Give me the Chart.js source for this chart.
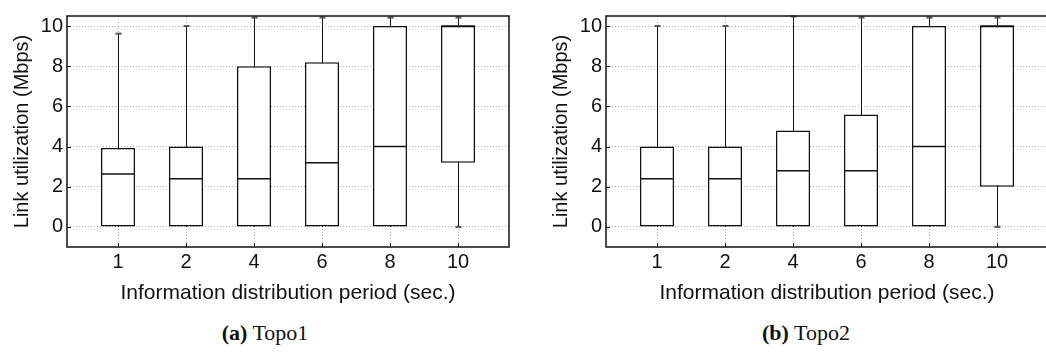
<!DOCTYPE html>
<html>
<head>
<meta charset="utf-8">
<title>Link utilization box plots</title>
<script src="https://cdn.jsdelivr.net/npm/chart.js@4"></script>
<style>
html,body{margin:0;padding:0;background:#fff;overflow:hidden}
#wrap{position:relative;width:1046px;height:354px;overflow:hidden}
.panel{position:absolute;top:0}
.panel canvas{display:block}
.cap{position:absolute;top:322px;width:240px;text-align:center;font-family:"Liberation Serif","Times New Roman",serif;font-size:22px;line-height:22px;color:#111}
</style>
</head>
<body>
<div id="wrap">
  <div class="panel" style="left:0"><canvas id="topo1" width="520" height="310"></canvas></div>
  <div class="panel" style="left:539px"><canvas id="topo2" width="520" height="310"></canvas></div>
  <div class="cap" style="left:145px"><b>(a)</b> Topo1</div>
  <div class="cap" style="left:686px"><b>(b)</b> Topo2</div>
</div>
<script>
// categories (information distribution period, sec.)
const periods = ['1', '2', '4', '6', '8', '10'];
const positions = [1, 2, 3, 4, 5, 6];
const yTicks = [0, 2, 4, 6, 8, 10];

// Topo1 box statistics (Mbps)
const topo1Min = [0, 0, 0, 0, 0, 0];
const topo1Q1 = [0, 0, 0, 0, 0, 3.2];
const topo1Median = [2.64, 2.4, 2.4, 3.2, 4, 10];
const topo1Q3 = [3.93, 4, 8.0, 8.2, 10, 10];
const topo1Max = [9.62, 10, 10.42, 10.42, 10.42, 10.42];

// Topo2 box statistics (Mbps)
const topo2Min = [0, 0, 0, 0, 0, 0];
const topo2Q1 = [0, 0, 0, 0, 0, 2];
const topo2Median = [2.4, 2.4, 2.8, 2.8, 4, 10];
const topo2Q3 = [4, 4, 4.8, 5.6, 10, 10];
const topo2Max = [10, 10, 10.48, 10.42, 10.42, 10.42];

const SANS = '"Liberation Sans", Arial, Helvetica, sans-serif';
const INK = '#111';

// whiskers behind the boxes, medians + frame on top
const boxPlugin = {
  id: 'boxParts',
  beforeDatasetsDraw(chart, args, opts) {
    const { ctx, scales: { x, y } } = chart;
    const s = opts.stats;
    ctx.save();
    positions.forEach((p, i) => {
      const px = Math.round(x.getPixelForValue(p)) + 0.5;
      ctx.strokeStyle = INK;
      ctx.lineWidth = 1;
      ctx.beginPath();
      ctx.moveTo(px, y.getPixelForValue(s.min[i]));
      ctx.lineTo(px, y.getPixelForValue(s.max[i]));
      ctx.stroke();
      ctx.strokeStyle = '#555';
      ctx.lineWidth = 2;
      if (s.max[i] > s.q3[i]) {
        const py = y.getPixelForValue(s.max[i]);
        ctx.beginPath(); ctx.moveTo(px - 3, py); ctx.lineTo(px + 3, py); ctx.stroke();
      }
      if (s.min[i] < s.q1[i]) {
        const py = y.getPixelForValue(s.min[i]);
        ctx.beginPath(); ctx.moveTo(px - 3, py); ctx.lineTo(px + 3, py); ctx.stroke();
      }
    });
    ctx.restore();
  },
  afterDatasetsDraw(chart, args, opts) {
    const { ctx, scales: { y } } = chart;
    const s = opts.stats;
    const meta = chart.getDatasetMeta(0);
    ctx.save();
    ctx.strokeStyle = INK;
    ctx.lineWidth = 1.5;
    meta.data.forEach((bar, i) => {
      const py = y.getPixelForValue(s.median[i]);
      ctx.beginPath();
      ctx.moveTo(bar.x - bar.width / 2, py);
      ctx.lineTo(bar.x + bar.width / 2, py);
      ctx.stroke();
    });
    ctx.restore();
  },
  afterDraw(chart) {
    const { ctx, chartArea: a, scales: { x, y } } = chart;
    ctx.save();
    ctx.strokeStyle = INK;
    ctx.lineWidth = 1.5;
    ctx.strokeRect(a.left, a.top, a.right - a.left, a.bottom - a.top);
    ctx.lineWidth = 1;
    x.ticks.forEach((t) => {
      const px = Math.round(x.getPixelForValue(t.value)) + 0.5;
      ctx.beginPath(); ctx.moveTo(px, a.bottom); ctx.lineTo(px, a.bottom - 4); ctx.stroke();
    });
    y.ticks.forEach((t) => {
      const py = Math.round(y.getPixelForValue(t.value)) + 0.5;
      ctx.beginPath(); ctx.moveTo(a.left, py); ctx.lineTo(a.left + 4, py); ctx.stroke();
    });
    ctx.restore();
  }
};

function makeChart(id, stats) {
  return new Chart(document.getElementById(id), {
    type: 'bar',
    data: {
      datasets: [{
        data: positions.map((p, i) => ({ x: p, y: [stats.q1[i], stats.q3[i]] })),
        backgroundColor: '#fff',
        borderColor: INK,
        borderWidth: 1.5,
        borderSkipped: false,
        barPercentage: 0.5,
        categoryPercentage: 1
      }]
    },
    options: {
      responsive: false,
      animation: false,
      events: [],
      layout: { padding: { top: 6, right: 11, left: 0, bottom: 0 } },
      plugins: {
        legend: { display: false },
        tooltip: { enabled: false },
        boxParts: { stats }
      },
      scales: {
        x: {
          type: 'linear',
          min: 0.25,
          max: 6.75,
          offset: false,
          afterBuildTicks: (scale) => { scale.ticks = positions.map((v) => ({ value: v })); },
          afterFit: (scale) => { scale.height = 63; },
          ticks: {
            callback: (v) => periods[v - 1],
            font: { family: SANS, size: 20 },
            color: INK,
            padding: 3,
            maxRotation: 0,
            autoSkip: false
          },
          grid: { offset: false, color: '#aaa', lineWidth: 1, drawTicks: false },
          border: { display: false, dash: [1, 2] },
          title: {
            display: true,
            text: 'Information distribution period (sec.)',
            font: { family: SANS, size: 21 },
            color: INK,
            padding: { top: 0, bottom: 4 }
          }
        },
        y: {
          min: -1,
          max: 10.5,
          afterBuildTicks: (scale) => { scale.ticks = yTicks.map((v) => ({ value: v })); },
          afterFit: (scale) => { scale.width = 67; },
          ticks: {
            font: { family: SANS, size: 20 },
            color: INK,
            padding: 4
          },
          grid: { color: '#aaa', lineWidth: 1, drawTicks: false },
          border: { display: false, dash: [1, 2] },
          title: {
            display: true,
            text: 'Link utilization (Mbps)',
            font: { family: SANS, size: 20 },
            color: INK,
            padding: { top: 10, bottom: 0 }
          }
        }
      }
    },
    plugins: [boxPlugin]
  });
}

makeChart('topo1', { min: topo1Min, q1: topo1Q1, median: topo1Median, q3: topo1Q3, max: topo1Max });
makeChart('topo2', { min: topo2Min, q1: topo2Q1, median: topo2Median, q3: topo2Q3, max: topo2Max });
</script>
</body>
</html>
